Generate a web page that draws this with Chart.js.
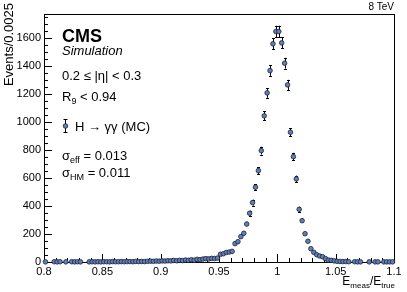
<!DOCTYPE html>
<html><head><meta charset="utf-8">
<script src="https://cdn.jsdelivr.net/npm/chart.js@4"></script>
<style>html,body{margin:0;padding:0;background:#fff}canvas{display:block}</style>
</head><body>
<canvas id="c" width="407" height="292"></canvas>
<script>
// Histogram binning (categories): 120 bins of width 0.0025 from 0.8 to 1.1
const binLow = 0.8;
const binWidth = 0.0025;
// Events per bin (null = empty bin)
const counts = [
  1, null, null, 2, 1, 2, null, 1, null, 2,
  1, 2, 1, null, null, 1, 2, 1, 2, 1,
  2, 2, 1, 3, 2, 2, 3, 2, 3, 3,
  2, 4, 3, 4, 3, 5, 6, 5, 7, 6,
  8, 7, 9, 8, 11, 9, 12, 10, 14, 12,
  16, 13, 19, 17, 21, 24, 22, 26, 25, 28,
  55, 59, 68, 71, 76, 131, 145, 181, 205, 271,
  348, 424, 534, 652, 795, 1043, 1207, 1366, 1557, 1645,
  1645, 1564, 1419, 1264, 926, 752, 593, 376, 295, 202,
  148, 95, 69, 52, 43, 38, 24, 14, 12, 8,
  5, 4, 3, 3, 2, null, 2, 1, 1, null,
  null, 1, null, 1, 1, null, 1, 1, 1, 1
];
// Statistical uncertainty per bin
const errors = [
  1, null, null, 1, 1, 1, null, 1, null, 1,
  1, 1, 1, null, null, 1, 1, 1, 1, 1,
  1, 1, 1, 2, 1, 1, 2, 1, 2, 2,
  1, 2, 2, 2, 2, 2, 2, 2, 3, 2,
  3, 3, 3, 3, 3, 3, 3, 3, 4, 3,
  4, 4, 4, 4, 5, 5, 5, 5, 5, 5,
  7, 8, 8, 8, 9, 11, 12, 13, 14, 16,
  19, 21, 23, 26, 28, 32, 35, 37, 39, 41,
  41, 40, 38, 36, 30, 27, 24, 19, 17, 14,
  12, 10, 8, 7, 7, 6, 5, 4, 3, 3,
  2, 2, 2, 2, 1, null, 1, 1, 1, null,
  null, 1, null, 1, 1, null, 1, 1, 1, 1
];
const xTickValues = [0.8, 0.85, 0.9, 0.95, 1, 1.05, 1.1];
const xTickLabels = ['0.8', '0.85', '0.9', '0.95', '1', '1.05', '1.1'];
const yTickValues = [0, 200, 400, 600, 800, 1000, 1200, 1400, 1600];
const yTickLabels = ['0', '200', '400', '600', '800', '1000', '1200', '1400', '1600'];
const xMinorStep = 0.01;
const yMinorStep = 50;
const xRange = [0.8, 1.1];
const yRange = [0, 1770];

const FONT = '"Liberation Sans", Arial, Helvetica, sans-serif';
const MARKER_FILL = '#5b80c6';
const MARKER_EDGE = '#222';

const points = [];
counts.forEach((c, i) => {
  if (c !== null) points.push({x: binLow + (i + 0.5) * binWidth, y: c, e: errors[i]});
});

function drawMarker(ctx, x, y) {
  ctx.save();
  ctx.beginPath();
  ctx.arc(x, y, 2.3, 0, Math.PI * 2);
  ctx.fillStyle = MARKER_FILL;
  ctx.fill();
  ctx.lineWidth = 0.8;
  ctx.strokeStyle = MARKER_EDGE;
  ctx.stroke();
  ctx.restore();
}

function subText(ctx, parts, x, y, align) {
  // parts: [text, size, dy]
  let total = 0;
  parts.forEach(p => { ctx.font = p[1] + 'px ' + FONT; total += ctx.measureText(p[0]).width; });
  let cx = align === 'right' ? x - total : x;
  ctx.textAlign = 'left';
  parts.forEach(p => {
    ctx.font = p[1] + 'px ' + FONT;
    ctx.fillText(p[0], cx, y + p[2]);
    cx += ctx.measureText(p[0]).width;
  });
}

const rootStyle = {
  id: 'rootStyle',
  beforeDatasetsDraw(chart) {
    const {ctx, chartArea: a, scales: {x, y}} = chart;
    ctx.save();
    ctx.strokeStyle = '#000';
    ctx.lineWidth = 1;
    // frame
    ctx.strokeRect(Math.round(a.left) + 0.5, Math.round(a.top) + 0.5,
      Math.round(a.right - a.left), Math.round(a.bottom - a.top));
    ctx.beginPath();
    // x ticks
    const nx = Math.round((xRange[1] - xRange[0]) / xMinorStep);
    for (let k = 0; k <= nx; k++) {
      const v = xRange[0] + k * xMinorStep;
      const px = Math.round(x.getPixelForValue(v)) + 0.5;
      const major = xTickValues.some(t => Math.abs(t - v) < 1e-6);
      const len = major ? 8 : 4;
      ctx.moveTo(px, a.bottom);
      ctx.lineTo(px, a.bottom - len);
    }
    // y ticks
    for (let v = yRange[0]; v <= yRange[1]; v += yMinorStep) {
      const py = Math.round(y.getPixelForValue(v)) + 0.5;
      const major = yTickValues.includes(v);
      const len = major ? 8 : 4;
      ctx.moveTo(a.left, py);
      ctx.lineTo(a.left + len, py);
    }
    ctx.stroke();
    // error bars
    const meta = chart.getDatasetMeta(0);
    const ds = chart.data.datasets[0].data;
    ctx.beginPath();
    meta.data.forEach((el, i) => {
      const d = ds[i];
      if (!d.e) return;
      const px = Math.round(el.x) + 0.5;
      const y1 = y.getPixelForValue(d.y + d.e);
      const y0 = y.getPixelForValue(Math.max(0, d.y - d.e));
      ctx.moveTo(px, y0); ctx.lineTo(px, y1);
      if (y0 - y1 > 5) {
        ctx.moveTo(px - 1.5, Math.round(y0) + 0.5); ctx.lineTo(px + 1.5, Math.round(y0) + 0.5);
        ctx.moveTo(px - 1.5, Math.round(y1) + 0.5); ctx.lineTo(px + 1.5, Math.round(y1) + 0.5);
      }
    });
    ctx.stroke();
    ctx.restore();
  },
  afterDraw(chart) {
    const {ctx, chartArea: a} = chart;
    ctx.save();
    ctx.fillStyle = '#000';
    ctx.textBaseline = 'alphabetic';
    ctx.textAlign = 'left';
    ctx.font = 'bold 18px ' + FONT;
    ctx.fillText('CMS', 62, 42);
    ctx.font = 'italic 13px ' + FONT;
    ctx.fillText('Simulation', 62, 55);
    ctx.font = '13px ' + FONT;
    ctx.fillText('0.2 \u2264 |\u03b7| < 0.3', 62, 80);
    subText(ctx, [['R', 13, 0], ['9', 9, 3], [' < 0.94', 13, 0]], 62, 101, 'left');
    ctx.font = '13px ' + FONT;
    ctx.fillText('H \u2192 \u03b3\u03b3 (MC)', 75, 131);
    subText(ctx, [['\u03c3', 13, 0], ['eff', 9, 3], [' = 0.013', 13, 0]], 62, 160, 'left');
    subText(ctx, [['\u03c3', 13, 0], ['HM', 9, 3], [' = 0.011', 13, 0]], 62, 177, 'left');
    // legend marker
    ctx.strokeStyle = '#000';
    ctx.lineWidth = 1;
    ctx.beginPath();
    ctx.moveTo(65.5, 119); ctx.lineTo(65.5, 133);
    ctx.moveTo(63.5, 119.5); ctx.lineTo(67.5, 119.5);
    ctx.moveTo(63.5, 132.5); ctx.lineTo(67.5, 132.5);
    ctx.stroke();
    drawMarker(ctx, 65.5, 126);
    ctx.fillStyle = '#000';
    // energy label
    ctx.font = '10px ' + FONT;
    ctx.textAlign = 'right';
    ctx.fillText('8 TeV', a.right, 10);
    // x title
    subText(ctx, [['E', 12, 0], ['meas', 8, 3], ['/E', 12, 0], ['true', 8, 3]], a.right + 1, 285, 'right');
    // y title
    ctx.translate(13, 3);
    ctx.rotate(-Math.PI / 2);
    ctx.font = '13px ' + FONT;
    ctx.textAlign = 'right';
    ctx.fillText('Events/0.0025', 0, 0);
    ctx.restore();
  }
};

new Chart(document.getElementById('c'), {
  type: 'scatter',
  data: {
    datasets: [{
      data: points,
      pointRadius: 2.3,
      pointHoverRadius: 2.3,
      pointBackgroundColor: MARKER_FILL,
      pointBorderColor: MARKER_EDGE,
      pointBorderWidth: 0.8,
      showLine: false,
      clip: false
    }]
  },
  options: {
    responsive: false,
    animation: false,
    devicePixelRatio: 1,
    layout: {padding: {top: 14, right: 13, left: 0, bottom: 0}},
    plugins: {legend: {display: false}, tooltip: {enabled: false}},
    events: [],
    scales: {
      x: {
        type: 'linear', min: xRange[0], max: xRange[1],
        afterBuildTicks: s => { s.ticks = xTickValues.map(v => ({value: v})); },
        afterFit: s => { s.height = 30; },
        ticks: {callback: (v, i) => xTickLabels[i], font: {family: FONT, size: 11}, color: '#000',
          padding: 3, maxRotation: 0, autoSkip: false},
        grid: {display: false, drawTicks: false},
        border: {display: false}
      },
      y: {
        type: 'linear', min: yRange[0], max: yRange[1],
        afterBuildTicks: s => { s.ticks = yTickValues.map(v => ({value: v})); },
        afterFit: s => { s.width = 44; },
        ticks: {callback: (v, i) => yTickLabels[i], font: {family: FONT, size: 11}, color: '#000',
          padding: 3, autoSkip: false},
        grid: {display: false, drawTicks: false},
        border: {display: false}
      }
    }
  },
  plugins: [rootStyle]
});
</script>
</body></html>
